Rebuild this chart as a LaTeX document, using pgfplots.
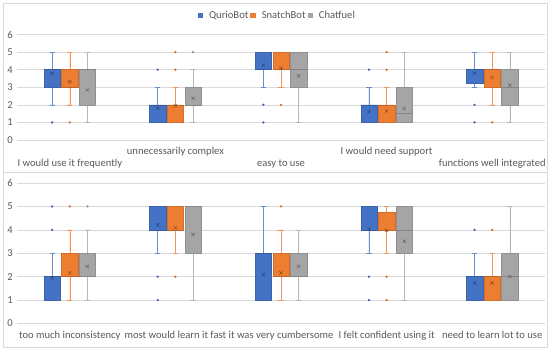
\documentclass[border=0pt]{standalone}
\usepackage{pgfplots}
\pgfplotsset{compat=1.18}
\usepgfplotslibrary{statistics}
\usepackage{fontspec}
\setmainfont{Carlito}
\definecolor{qb}{HTML}{4472C4}
\definecolor{so}{HTML}{ED7D31}
\definecolor{cg}{HTML}{A5A5A5}
\definecolor{txt}{HTML}{595959}
\definecolor{gridc}{HTML}{D9D9D9}
% color, position, lower whisker, lower quartile, median, upper quartile, upper whisker, outliers
\newcommand\bx[8]{\addplot[forget plot, fill=#1, draw=#1!88!black, line width=0.5bp,
  mark=*, mark size=0.9bp, mark options={draw=none,fill=#1},
  boxplot prepared={draw position=#2, lower whisker=#3, lower quartile=#4, median=#5,
    upper quartile=#6, upper whisker=#7,
    every whisker/.style={draw=#1!80!white, line width=0.6bp},
    every median/.style={draw=#1!80!black, line width=0.5bp}}] coordinates {#8};}
\pgfplotsset{myax/.style={
  scale only axis, width=528bp, xmin=0.5, xmax=5.5, ymin=0, ymax=6,
  ytick={0,...,6}, ymajorgrids, grid style={draw=gridc, line width=0.6bp},
  axis line style={draw=none}, major tick length=0pt, tick style={draw=none},
  ticklabel style={font=\fontsize{10.6bp}{12bp}\selectfont, text=txt},
  /pgf/number format/assume math mode=true,
  yticklabel style={anchor=east, inner sep=0pt, xshift=-4bp},
  xticklabel style={anchor=base, inner sep=0pt, yshift=-14.5bp},
  boxplot/draw direction=y, boxplot/box extend=0.155, boxplot/whisker extend=0.05,
}}
\begin{document}
\begin{tikzpicture}[x=1bp,y=1bp]
\useasboundingbox (0,0) rectangle (550,350);
\draw[gridc, line width=0.7bp] (3,3) rectangle (547,347);
\draw[gridc, line width=0.7bp] (3,178) -- (547,178);
% ---------------- top panel
\begin{axis}[myax, at={(17bp,210bp)}, anchor=south west, height=105.5bp,
  xtick={2,4}, xticklabels={unnecessarily complex, I would need support},
  extra x ticks={1,3,5},
  extra x tick labels={I would use it frequently, easy to use, functions well integrated},
  extra x tick style={xticklabel style={yshift=-11.5bp}},
  legend style={at={(axis description cs:0.493,1.18)}, anchor=center, draw=none, fill=none,
    font=\fontsize{10.6bp}{12bp}\selectfont, text=txt, legend columns=3,
    /tikz/every odd column/.append style={column sep=4bp},
    /tikz/every even column/.append style={column sep=0bp}},
  legend image code/.code={\fill[#1, draw=none] (0bp,-2.7bp) rectangle (5.4bp,2.7bp);}]
\addlegendimage{fill=qb}\addlegendentry{QurioBot}
\addlegendimage{fill=so}\addlegendentry{SnatchBot}
\addlegendimage{fill=cg}\addlegendentry{Chatfuel}
% group 1
\bx{qb}{0.833}{2}{3}{4}{4}{5}{(0,1)}
\bx{so}{1.000}{2}{3}{3}{4}{5}{(0,1)}
\bx{cg}{1.167}{1}{2}{4}{4}{5}{}
% group 2
\bx{qb}{1.833}{1}{1}{2}{2}{3}{(0,4)}
\bx{so}{2.000}{1}{1}{2}{2}{3}{(0,4) (0,5)}
\bx{cg}{2.167}{1}{2}{2}{3}{4}{(0,5)}
% group 3
\bx{qb}{2.833}{3}{4}{4}{5}{5}{(0,2) (0,1)}
\bx{so}{3.000}{3}{4}{4}{5}{5}{(0,2)}
\bx{cg}{3.167}{1}{3}{4}{5}{5}{}
% group 4
\bx{qb}{3.833}{1}{1}{2}{2}{3}{(0,4)}
\bx{so}{4.000}{1}{1}{2}{2}{3}{(0,4) (0,5)}
\bx{cg}{4.167}{1}{1}{1.5}{3}{5}{}
% group 5
\bx{qb}{4.833}{3}{3.25}{4}{4}{5}{(0,2) (0,1)}
\bx{so}{5.000}{2}{3}{4}{4}{5}{(0,1)}
\bx{cg}{5.167}{1}{2}{3}{4}{5}{}
% means
\addplot[forget plot, only marks, mark=x, mark size=2.3bp, qb!60!black, line width=0.5bp]
  coordinates {(0.833,3.79) (1.833,1.8) (2.833,4.26) (3.833,1.6) (4.833,3.8)};
\addplot[forget plot, only marks, mark=x, mark size=2.3bp, so!60!black, line width=0.5bp]
  coordinates {(1.0,3.31) (2.0,1.95) (3.0,4.07) (4.0,1.65) (5.0,3.56)};
\addplot[forget plot, only marks, mark=x, mark size=2.3bp, cg!60!black, line width=0.5bp]
  coordinates {(1.167,2.84) (2.167,2.37) (3.167,3.65) (4.167,1.8) (5.167,3.12)};
\end{axis}
% ---------------- bottom panel
\begin{axis}[myax, at={(17bp,26.5bp)}, anchor=south west, height=140.5bp,
  xtick={1,2,3,4,5},
  xticklabels={too much inconsistency, most would learn it fast, it was very cumbersome, I felt confident using it, need to learn lot to use}]
% group 1
\bx{qb}{0.833}{1}{1}{2}{2}{3}{(0,4) (0,5)}
\bx{so}{1.000}{1}{2}{2}{3}{4}{(0,5)}
\bx{cg}{1.167}{1}{2}{2}{3}{4}{(0,5)}
% group 2
\bx{qb}{1.833}{3}{4}{4}{5}{5}{(0,2) (0,1)}
\bx{so}{2.000}{3}{4}{4}{5}{5}{(0,2)}
\bx{cg}{2.167}{1}{3}{5}{5}{5}{}
% group 3
\bx{qb}{2.833}{1}{1}{3}{3}{5}{}
\bx{so}{3.000}{1}{2}{2}{3}{4}{(0,5)}
\bx{cg}{3.167}{1}{2}{2}{3}{4}{}
% group 4
\bx{qb}{3.833}{3}{4}{4}{5}{5}{(0,2) (0,1)}
\bx{so}{4.000}{3}{4}{4}{4.75}{5}{(0,2) (0,1)}
\bx{cg}{4.167}{1}{3}{4}{5}{5}{}
% group 5
\bx{qb}{4.833}{1}{1}{2}{2}{3}{(0,4)}
\bx{so}{5.000}{1}{1}{2}{2}{3}{(0,4)}
\bx{cg}{5.167}{1}{1}{2}{3}{5}{}
% means
\addplot[forget plot, only marks, mark=x, mark size=2.3bp, qb!60!black, line width=0.5bp]
  coordinates {(0.833,1.95) (1.833,4.22) (2.833,2.09) (3.833,4.04) (4.833,1.73)};
\addplot[forget plot, only marks, mark=x, mark size=2.3bp, so!60!black, line width=0.5bp]
  coordinates {(1.0,2.16) (2.0,4.08) (3.0,2.16) (4.0,3.98) (5.0,1.73)};
\addplot[forget plot, only marks, mark=x, mark size=2.3bp, cg!60!black, line width=0.5bp]
  coordinates {(1.167,2.44) (2.167,3.8) (3.167,2.44) (4.167,3.51) (5.167,2.0)};
\end{axis}
\end{tikzpicture}
\end{document}
